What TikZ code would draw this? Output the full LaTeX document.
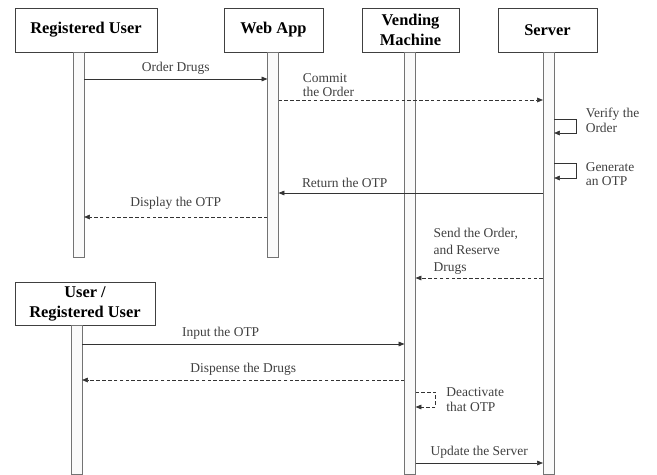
\documentclass[tikz,border=0pt]{standalone}
\usepackage{fontspec}
\setmainfont{Liberation Serif}
\usetikzlibrary{arrows.meta,positioning,calc}
\tikzset{
  >={Triangle[length=5pt,width=4pt]},
  actor/.style={draw=black!75,line width=0.7pt,fill=white,align=center,font=\fontsize{14}{17}\selectfont\bfseries,inner sep=2pt,minimum height=1.32cm},
  bar/.style={draw=black!55,fill=black!2,minimum width=0.32cm,inner sep=0pt},
  msg/.style={->,draw=black!80,line width=0.55pt},
  reply/.style={msg,densely dashed},
  lbl/.style={font=\fontsize{11.5}{12.5}\selectfont,text=black!75,inner sep=1pt}
}
\begin{document}
\begin{tikzpicture}[x=0.03cm,y=-0.03cm]
\useasboundingbox(0,0)rectangle(657,474);
\node[actor,minimum width=4.26cm](ru)at(86,30){Registered User};
\node[actor,minimum width=2.97cm](web)at(273.5,30){Web App};
\node[actor,minimum width=2.91cm](vm)at(410.5,30){Vending\\Machine};
\node[actor,minimum width=2.97cm](srv)at(547.5,30){Server};
\node[actor,minimum width=4.2cm,minimum height=1.29cm](usr)at(85,303.5){User /\\Registered User};
\node[bar,minimum height=6.15cm](rub)at(78.5,154.5){};
\node[bar,minimum height=6.15cm](webb)at(273,154.5){};
\node[bar,minimum height=12.66cm](vmb)at(410,263){};
\node[bar,minimum height=12.66cm](srvb)at(548.5,263){};
\node[bar,minimum height=4.47cm](usrb)at(76.5,399.5){};
\coordinate(y1)at(0,79);\coordinate(y2)at(0,100);
\coordinate(y3)at(0,119);\coordinate(y4)at(0,163);
\coordinate(y5)at(0,193);\coordinate(y6)at(0,217);
\coordinate(y7)at(0,278);\coordinate(y8)at(0,344);
\coordinate(y9)at(0,380);\coordinate(y10)at(0,392);
\coordinate(y11)at(0,463);
\draw[msg](rub.east|-y1)--node[lbl,above=3pt]{Order Drugs}(webb.west|-y1);
\draw[reply](webb.east|-y2)--node[lbl,pos=0.08,above right=2pt,align=left]{Commit\\the Order}(srvb.west|-y2);
\draw[msg](srvb.east|-y3)--++(22,0)--node[lbl,right=7pt,yshift=5pt,align=left]{Verify the\\Order}++(0,14)--++(-22,0);
\draw[msg](srvb.east|-y4)--++(22,0)--node[lbl,right=7pt,yshift=-3pt,align=left]{Generate\\an OTP}++(0,15)--++(-22,0);
\draw[msg](srvb.west|-y5)--node[lbl,pos=0.75,above=3pt]{Return the OTP}(webb.east|-y5);
\draw[reply](webb.west|-y6)--node[lbl,above=5pt]{Display the OTP}(rub.east|-y6);
\draw[reply](srvb.west|-y7)--node[lbl,pos=0.89,above right=3pt,align=left]{Send the Order,\\[2pt]and Reserve\\[2pt]Drugs}(vmb.east|-y7);
\draw[msg](usrb.east|-y8)--node[lbl,pos=0.43,above=3pt]{Input the OTP}(vmb.west|-y8);
\draw[reply](vmb.west|-y9)--node[lbl,above=3pt]{Dispense the Drugs}(usrb.east|-y9);
\draw[reply](vmb.east|-y10)--++(20,0)--node[lbl,right=8pt,align=left]{Deactivate\\that OTP}++(0,15)--++(-20,0);
\draw[msg](vmb.east|-y11)--node[lbl,above=3pt]{Update the Server}(srvb.west|-y11);
\end{tikzpicture}
\end{document}
